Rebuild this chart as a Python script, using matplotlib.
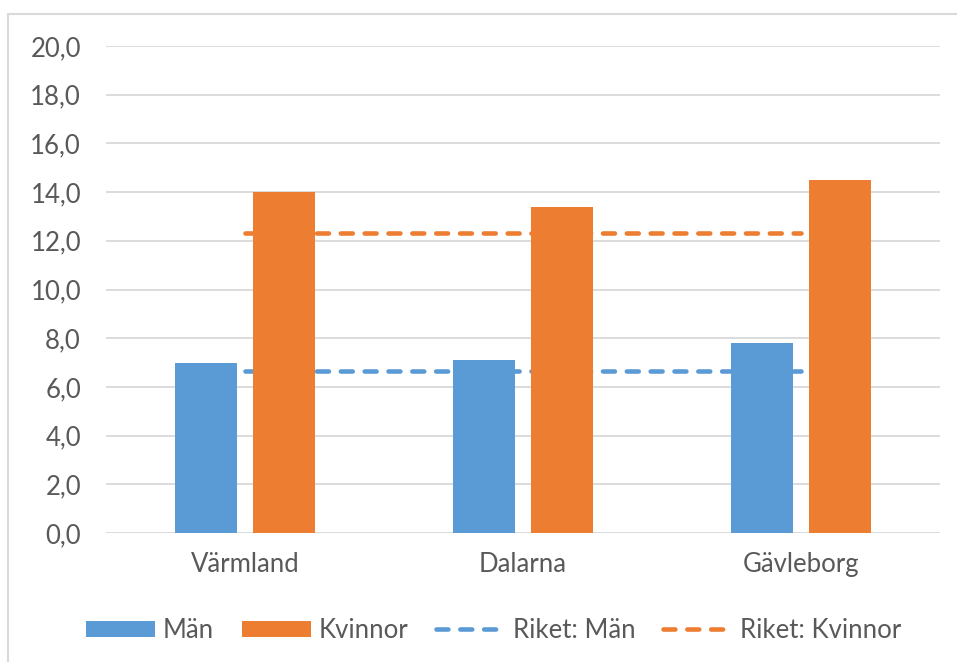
import numpy as np
import matplotlib
matplotlib.use('Agg')
import matplotlib.pyplot as plt
from matplotlib.patches import Rectangle
from matplotlib.ticker import FuncFormatter

# data
regions = ['Värmland', 'Dalarna', 'Gävleborg']
man = [7.0, 7.1, 7.8]
kvinnor = [14.0, 13.4, 14.5]
riket_man = [6.65, 6.65, 6.65]
riket_kvinnor = [12.3, 12.3, 12.3]
yticks = np.arange(0, 21, 2)

blue = '#5B9BD5'
orange = '#ED7D31'
grey_txt = '#595959'
grid_c = '#D9D9D9'

plt.rcParams['font.family'] = ['Lato', 'DejaVu Sans']

fig = plt.figure(figsize=(9.57, 6.62), dpi=100)
ax = fig.add_axes([106/957, 129/662, 834/957, 487/662])

x = np.arange(len(regions))
w = 0.223
off = 0.142

# lines behind the bars, as in the original
ax.plot(x, riket_man, color=blue, lw=3.3, dashes=[2.6, 2.6], dash_capstyle='round',
        zorder=2, label='Riket: Män')
ax.plot(x, riket_kvinnor, color=orange, lw=3.3, dashes=[2.6, 2.6], dash_capstyle='round',
        zorder=2, label='Riket: Kvinnor')
ax.bar(x - off, man, w, color=blue, zorder=3, label='Män')
ax.bar(x + off, kvinnor, w, color=orange, zorder=3, label='Kvinnor')

ax.set_xlim(-0.5, 2.5)
ax.set_ylim(0, 20)
ax.set_yticks(yticks)
ax.yaxis.set_major_formatter(FuncFormatter(lambda v, p: ('%.1f' % v).replace('.', ',')))
ax.set_xticks(x)
ax.set_xticklabels(regions)
ax.grid(axis='y', color=grid_c, lw=1.3, zorder=0)
ax.set_axisbelow(True)
for s in ax.spines.values():
    s.set_visible(False)
ax.tick_params(axis='both', length=0, labelsize=18.5, colors=grey_txt)
ax.tick_params(axis='y', pad=18)
ax.tick_params(axis='x', pad=14)

# legend order: bars first, then lines
h, l = ax.get_legend_handles_labels()
order = [2, 3, 0, 1]
leg = fig.legend([h[i] for i in order], [l[i] for i in order], loc='center',
                 bbox_to_anchor=(0.516, 0.048), ncol=4, frameon=False,
                 fontsize=18.5, handlelength=2.7, handleheight=0.6,
                 handletextpad=0.3, columnspacing=1.07)
for t in leg.get_texts():
    t.set_color(grey_txt)

# chart area border
fig.add_artist(Rectangle((8/957, -0.1), 2, (662 - 14)/662 + 0.1, fill=False,
                         edgecolor=grid_c, lw=1.5, transform=fig.transFigure))

fig.savefig('out.png', dpi=100)
